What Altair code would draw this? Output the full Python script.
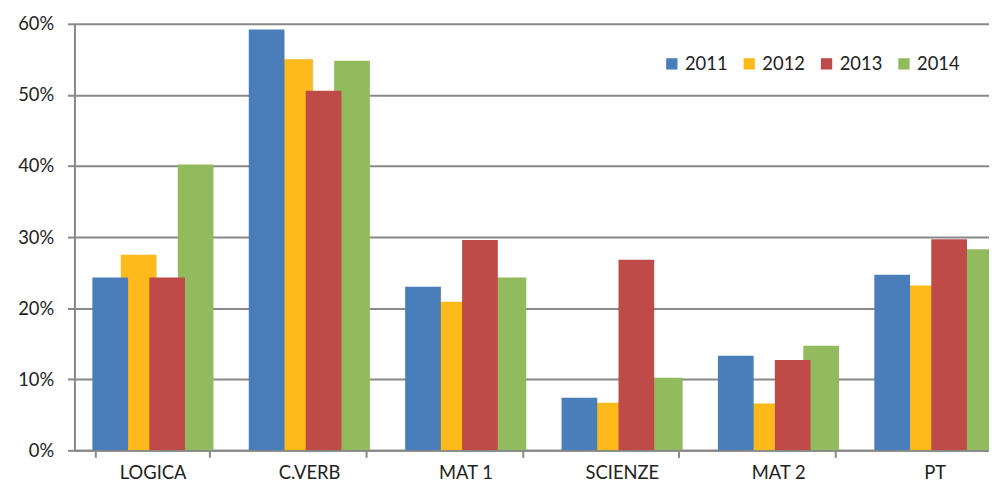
import altair as alt
import pandas as pd

categories = ["LOGICA", "C.VERB", "MAT 1", "SCIENZE", "MAT 2", "PT"]
years = ["2011", "2012", "2013", "2014"]
v2011 = [0.243, 0.592, 0.230, 0.074, 0.133, 0.247]
v2012 = [0.275, 0.550, 0.209, 0.067, 0.066, 0.232]
v2013 = [0.243, 0.506, 0.296, 0.268, 0.127, 0.297]
v2014 = [0.402, 0.548, 0.243, 0.102, 0.147, 0.283]
colors = ["#4A7EBB", "#FDBA1A", "#BE4B48", "#92BB5E"]

rows = []
for y, vals in zip(years, [v2011, v2012, v2013, v2014]):
    for c, v in zip(categories, vals):
        rows.append({"cat": c, "year": y, "value": v})
df = pd.DataFrame(rows)

FONT = "Lato"

x_enc = alt.X("cat:N", sort=categories, title=None,
              scale=alt.Scale(domain=categories, paddingInner=0.269, paddingOuter=0.1345,
                              range=[0, 946]),
              axis=alt.Axis(labelAngle=0, labelFontSize=18.5, labelFont=FONT,
                            labelColor="#222222", labelPadding=6,
                            tickBand="extent", tickSize=7, tickColor="#888888",
                            tickWidth=2, domainColor="#888888", domainWidth=2))
xo_enc = alt.XOffset("year:N", sort=years,
                     scale=alt.Scale(domain=years, paddingInner=0, paddingOuter=0,
                                     range=[11.5, 126.3]))
y_enc = alt.Y("value:Q", title=None,
              scale=alt.Scale(domain=[0, 0.6], nice=False),
              axis=alt.Axis(format=".0%", values=[0, 0.1, 0.2, 0.3, 0.4, 0.5, 0.6],
                            labelFontSize=18.5, labelFont=FONT, labelColor="#222222",
                            labelPadding=14, tickSize=7, tickColor="#888888", tickWidth=2,
                            domainColor="#888888", domainWidth=2,
                            grid=True, gridColor="#888888", gridWidth=2))
c_enc = alt.Color("year:N", sort=years,
                  scale=alt.Scale(domain=years, range=colors),
                  legend=alt.Legend(title=None, orient="none", legendX=593, legendY=31,
                                    direction="horizontal", symbolType="square",
                                    symbolSize=130, symbolStrokeWidth=0,
                                    labelFontSize=18.5, labelFont=FONT,
                                    labelColor="#222222", columnPadding=12,
                                    symbolOpacity=1))

base = alt.Chart(df).mark_bar(clip=True, width=alt.RelativeBandSize(1.254)).encode(
    x=x_enc, xOffset=xo_enc, y=y_enc, color=c_enc)

back = base.transform_filter(alt.FieldOneOfPredicate(field="year", oneOf=["2012", "2014"]))
front = base.transform_filter(alt.FieldOneOfPredicate(field="year", oneOf=["2011", "2013"]))

chart = alt.layer(back, front).properties(
    width=922, height=430,
    autosize=alt.AutoSizeParams(type="none"),
    padding={"left": 67, "top": 14, "right": 0, "bottom": 35},
).configure_view(stroke=None)

chart.save("out.html", embed_options={"renderer": "svg", "actions": False})
